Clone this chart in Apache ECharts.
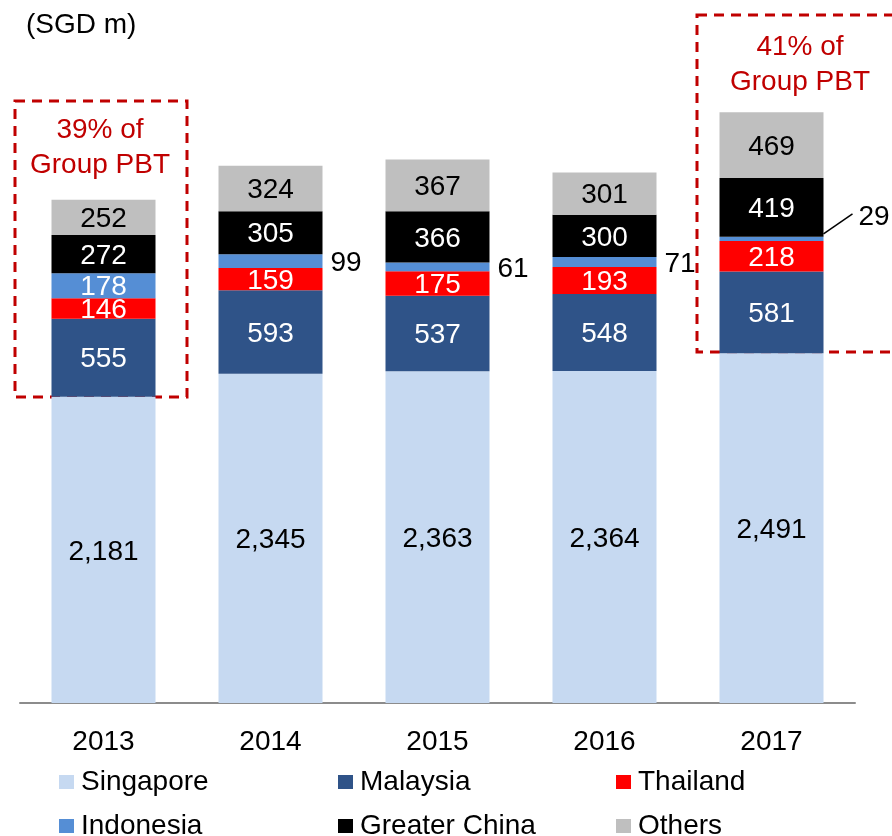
<!DOCTYPE html>
<html>
<head>
<meta charset="utf-8">
<script src="https://cdn.jsdelivr.net/npm/echarts@6/dist/echarts.min.js"></script>
<style>
  html, body { margin: 0; padding: 0; background: #fff; }
  #main { width: 892px; height: 836px; }
</style>
</head>
<body>
<div id="main"></div>
<script>
// 数据
var years = ['2013', '2014', '2015', '2016', '2017'];
var singapore = [2181, 2345, 2363, 2364, 2491];
var malaysia = [555, 593, 537, 548, 581];
var thailand = [146, 159, 175, 193, 218];
var indonesia = [178, 99, 61, 71, 29];
var greaterChina = [272, 305, 366, 300, 419];
var others = [252, 324, 367, 301, 469];

var FONT = "'Liberation Sans', Arial, sans-serif";
var RED = '#C00000';
var FS = 28;

var myChart = echarts.init(document.getElementById('main'));

function barSeries(name, data, color, labelColor) {
  return {
    name: name,
    type: 'bar',
    stack: 'total',
    barWidth: 104,
    data: data,
    itemStyle: { color: color },
    label: {
      show: true,
      position: 'inside',
      offset: [0, 2],
      color: labelColor,
      fontSize: FS,
      fontFamily: FONT,
      formatter: function (p) { return p.value.toLocaleString('en-US'); }
    }
  };
}

// 印尼：2013 放在柱内，其余放在柱右侧
var indoData = indonesia.map(function (v, i) {
  if (i === 0) return v;
  if (i === 4) {
    return { value: v, label: { show: false } };
  }
  return { value: v, label: { position: 'right', distance: 8, color: '#000' } };
});

function legendItem(name, left, top) {
  return {
    data: [name],
    left: left,
    top: top,
    icon: 'rect',
    itemWidth: 15,
    itemHeight: 14,
    itemGap: 0,
    selectedMode: false,
    textStyle: { fontSize: FS, lineHeight: 28, fontFamily: FONT, color: '#000', padding: [0, 0, 0, 2] }
  };
}

var option = {
  animation: false,
  textStyle: { fontFamily: FONT },
  grid: { left: 20, right: 37, top: 71, bottom: 133 },
  legend: [
    legendItem('Singapore', 54, 763),
    legendItem('Malaysia', 333, 763),
    legendItem('Thailand', 611, 763),
    legendItem('Indonesia', 54, 807),
    legendItem('Greater China', 333, 807),
    legendItem('Others', 611, 807)
  ],
  xAxis: {
    type: 'category',
    data: years,
    axisTick: { show: false },
    axisLine: { lineStyle: { color: '#8c8c8c', width: 2 } },
    axisLabel: { color: '#000', fontSize: FS, lineHeight: 28, fontFamily: FONT, margin: 25 }
  },
  yAxis: {
    type: 'value',
    min: 0,
    max: 4500,
    show: false,
    splitLine: { show: false }
  },
  graphic: [
    {
      type: 'text', x: 26, y: 11,
      style: { text: '(SGD m)', fontSize: FS, fontFamily: FONT, fill: '#000' }
    },
    {
      type: 'rect', shape: { x: 15, y: 101, width: 172, height: 296 },
      style: { fill: 'none', stroke: RED, lineWidth: 3, lineDash: [10, 7] }
    },
    {
      type: 'text', x: 100, y: 113,
      style: { text: '39% of\nGroup PBT', fontSize: FS, lineHeight: 35, fontFamily: FONT, fill: RED, align: 'center' }
    },
    {
      type: 'rect', shape: { x: 697, y: 15, width: 200, height: 337 },
      style: { fill: 'none', stroke: RED, lineWidth: 3, lineDash: [10, 7] }
    },
    {
      type: 'text', x: 800, y: 30,
      style: { text: '41% of\nGroup PBT', fontSize: FS, lineHeight: 35, fontFamily: FONT, fill: RED, align: 'center' }
    }
  ],
  series: [
    barSeries('Singapore', singapore, '#C6D9F1', '#000'),
    barSeries('Malaysia', malaysia, '#2F5388', '#fff'),
    barSeries('Thailand', thailand, '#FF0000', '#fff'),
    barSeries('Indonesia', indoData, '#558ED5', '#fff'),
    barSeries('Greater China', greaterChina, '#000000', '#fff'),
    barSeries('Others', others, '#BFBFBF', '#000')
  ]
};

myChart.setOption(option);

// 2017 印尼的引线标注
var base = singapore[4] + malaysia[4] + thailand[4] + indonesia[4];
var p = myChart.convertToPixel({ gridIndex: 0 }, [4, base]);
var x0 = p[0] + 52, y0 = p[1] - 3;
var g = option.graphic.slice();
g.push({
  type: 'line',
  shape: { x1: x0, y1: y0, x2: x0 + 29, y2: y0 - 20 },
  style: { stroke: '#000', lineWidth: 1.5 }
});
g.push({
  type: 'text', x: x0 + 35, y: y0 - 17,
  style: { text: String(indonesia[4]), fontSize: FS, fontFamily: FONT, fill: '#000', verticalAlign: 'middle' }
});
myChart.setOption({ graphic: g });
</script>
</body>
</html>
